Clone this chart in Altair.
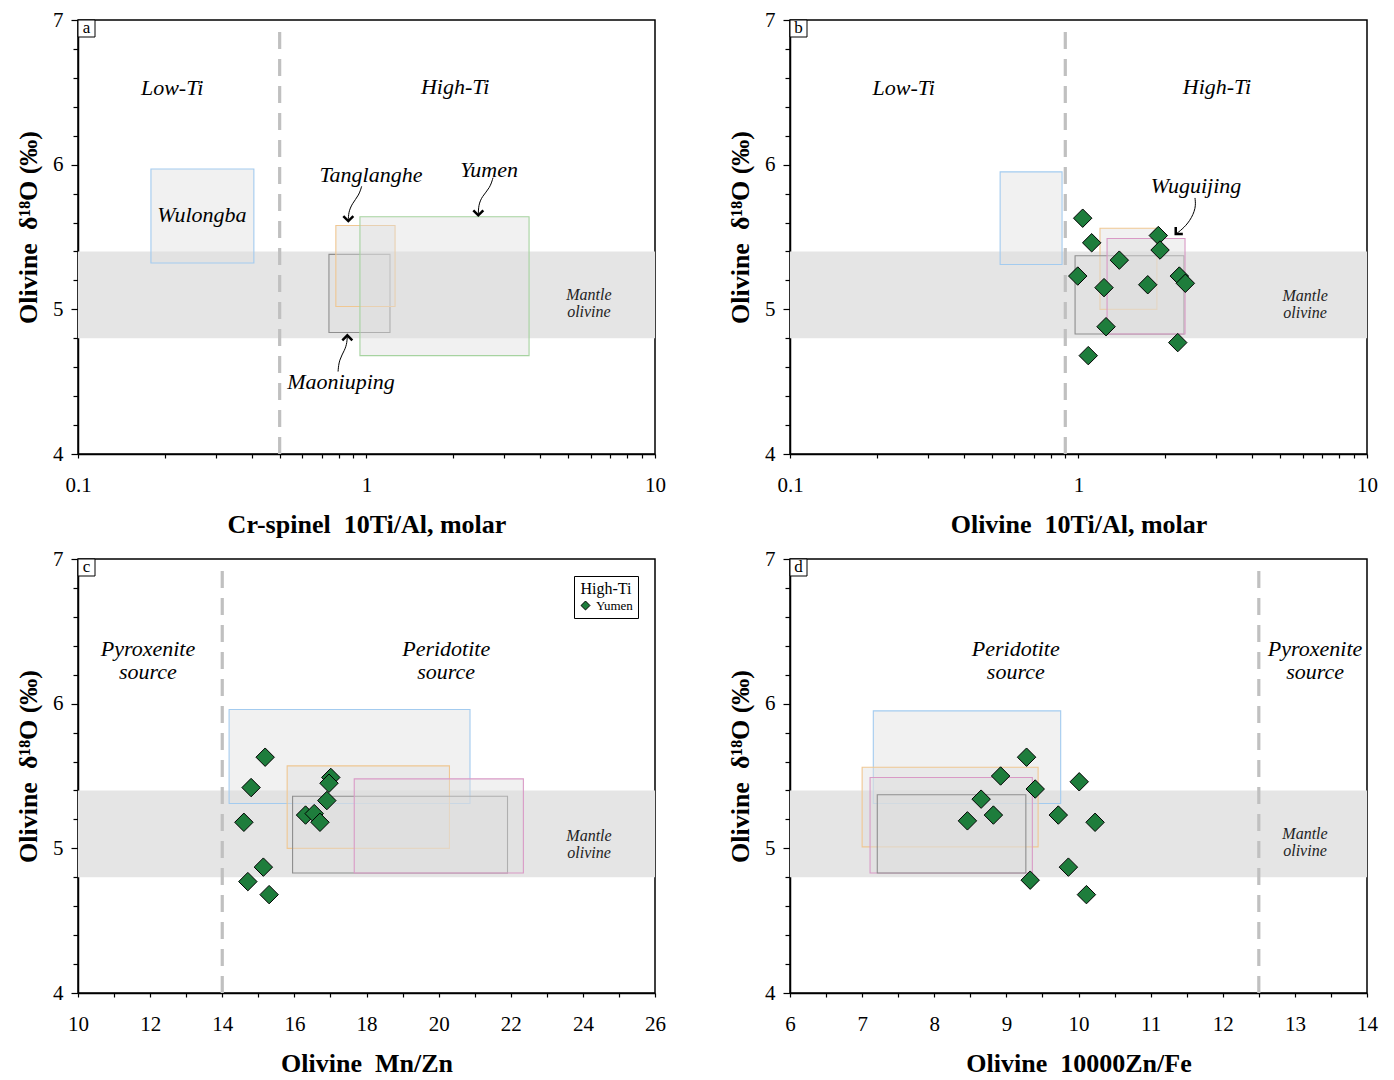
import altair as alt
import pandas as pd

W, H = 577, 434
SERIF = "Liberation Serif"
PT_FILL = "#1e7d3c"
NB = "\u00a0"

# ---------------- data ----------------
# Panel a: Cr-spinel 10Ti/Al (log) vs olivine d18O, suite fields
a_box_name = ["Wulongba", "Maoniuping", "Tanglanghe", "Yumen"]
a_box_x1 = [0.179, 0.741, 0.783, 0.949]
a_box_x2 = [0.407, 1.206, 1.256, 3.66]
a_box_y1 = [5.32, 4.84, 5.02, 4.68]
a_box_y2 = [5.97, 5.38, 5.58, 5.64]
a_box_col = ["#a3cbef", "#8e8e8e", "#f0c792", "#a6d3a0"]

# Panel b: olivine 10Ti/Al (log)
b_box_name = ["Wulongba", "Tanglanghe", "Maoniuping", "Wuguijing"]
b_box_x1 = [0.535, 1.187, 0.973, 1.256]
b_box_x2 = [0.877, 1.87, 2.32, 2.34]
b_box_y1 = [5.31, 5.0, 4.83, 4.83]
b_box_y2 = [5.95, 5.56, 5.37, 5.49]
b_box_col = ["#a3cbef", "#f0c792", "#8e8e8e", "#d99ac6"]
b_pt_x = [1.034, 1.111, 1.891, 1.917, 1.385, 0.994, 2.236, 2.346, 1.738, 1.226, 1.246, 2.208, 1.081]
b_pt_y = [5.63, 5.46, 5.51, 5.41, 5.34, 5.23, 5.23, 5.18, 5.17, 5.15, 4.88, 4.77, 4.68]

# Panel c: olivine Mn/Zn
c_box_name = ["Wulongba", "Tanglanghe", "Maoniuping", "Wuguijing"]
c_box_x1 = [14.19, 15.80, 15.95, 17.66]
c_box_x2 = [20.87, 20.30, 21.91, 22.35]
c_box_y1 = [5.31, 5.0, 4.83, 4.83]
c_box_y2 = [5.96, 5.57, 5.36, 5.48]
c_box_col = ["#a3cbef", "#f0c792", "#8e8e8e", "#d99ac6"]
c_pt_x = [15.19, 14.80, 17.01, 16.96, 16.90, 16.31, 16.55, 16.71, 14.60, 15.14, 14.71, 15.30]
c_pt_y = [5.63, 5.42, 5.49, 5.45, 5.33, 5.23, 5.24, 5.18, 5.18, 4.87, 4.77, 4.68]

# Panel d: olivine 10000Zn/Fe
d_box_name = ["Wulongba", "Tanglanghe", "Wuguijing", "Maoniuping"]
d_box_x1 = [7.155, 7.0, 7.11, 7.21]
d_box_x2 = [9.753, 9.44, 9.36, 9.27]
d_box_y1 = [5.31, 5.01, 4.83, 4.83]
d_box_y2 = [5.95, 5.56, 5.49, 5.37]
d_box_col = ["#a3cbef", "#f0c792", "#d99ac6", "#8e8e8e"]
d_pt_x = [9.28, 8.92, 10.01, 9.40, 8.65, 8.82, 8.46, 9.72, 10.23, 9.86, 9.33, 10.11]
d_pt_y = [5.63, 5.50, 5.46, 5.41, 5.34, 5.23, 5.19, 5.23, 5.18, 4.87, 4.78, 4.68]

mantle_lo, mantle_hi = 4.8, 5.4

# annotation labels (data coordinates)
a_lab_text = ["Low-Ti", "High-Ti", "Wulongba", "Tanglanghe", "Yumen", "Maoniuping"]
a_lab_x = [0.212, 2.03, 0.269, 1.036, 2.66, 0.816]
a_lab_y = [6.53, 6.54, 5.65, 5.93, 5.96, 4.50]
b_lab_text = ["Low-Ti", "High-Ti", "Wuguijing"]
b_lab_x = [0.248, 3.02, 2.555]
b_lab_y = [6.53, 6.54, 5.85]
c_lab_text = ["Pyroxenite\nsource", "Peridotite\nsource"]
c_lab_x = [11.94, 20.21]
c_lab_y = [6.38, 6.38]
d_lab_text = ["Peridotite\nsource", "Pyroxenite\nsource"]
d_lab_x = [9.13, 13.28]
d_lab_y = [6.38, 6.38]
mantle_x = {"a": 5.90, "b": 6.10, "c": 24.17, "d": 13.14}
mantle_y = {"a": 5.10, "b": 5.09, "c": 5.085, "d": 5.10}

# curved arrows (data coordinates)
a_arrow_id = [1] * 5 + [2] * 5 + [3] * 5
a_arrow_x = [0.962, 0.942, 0.891, 0.866, 0.865,
             2.745, 2.68, 2.513, 2.444, 2.441,
             0.797, 0.803, 0.842, 0.856, 0.858]
a_arrow_y = [5.85, 5.79, 5.73, 5.67, 5.61,
             5.91, 5.84, 5.78, 5.72, 5.65,
             4.57, 4.65, 4.72, 4.77, 4.82]
a_head_x = [0.865, 2.441, 0.858]
a_head_y = [5.61, 5.65, 4.82]
a_head_ang = [0, 0, 180]
b_arrow_id = [1] * 5
b_arrow_x = [2.534, 2.555, 2.436, 2.279, 2.173]
b_arrow_y = [5.77, 5.70, 5.61, 5.55, 5.52]
b_head_x = [2.173]
b_head_y = [5.52]
b_head_ang = [45]

y_ticks = [4.0, 4.2, 4.4, 4.6, 4.8, 5.0, 5.2, 5.4, 5.6, 5.8, 6.0,
           6.2, 6.4, 6.6, 6.8, 7.0]
log_ticks = [0.1, 0.2, 0.3, 0.4, 0.5, 0.6, 0.7, 0.8, 0.9, 1, 2, 3, 4, 5, 6, 7, 8, 9, 10]
c_ticks = list(range(10, 27))
d_ticks = [6, 6.5, 7, 7.5, 8, 8.5, 9, 9.5, 10, 10.5, 11, 11.5, 12, 12.5, 13, 13.5, 14]

Y_TITLE = f"Olivine{NB}{NB}δ¹⁸O{NB}(‰)"
INT_TEST = "abs(datum.value - round(datum.value)) < 0.01"


def build_panel(letter, xscale, xaxis, xtitle, xmin, xmax, boxes, dashed_x,
                labels, pts=None, arrows=None, heads=None, legend=False):
    def X(field="x"):
        return alt.X(f"{field}:Q", scale=xscale, axis=xaxis, title=xtitle)

    def Y(field="y"):
        return alt.Y(f"{field}:Q", scale=alt.Scale(domain=[4, 7], nice=False, zero=False),
                     axis=alt.Axis(values=y_ticks, titleY=207,
                                   labelExpr=f"{INT_TEST} ? format(datum.value, 'd') : ''",
                                   tickSize={"condition": {"test": INT_TEST, "value": 7}, "value": 5}),
                     title=Y_TITLE)

    band_df = pd.DataFrame({"x": [xmin], "x2": [xmax], "y": [mantle_lo], "y2": [mantle_hi]})
    band = alt.Chart(band_df).mark_rect(color="#e5e5e5").encode(
        x=X(), x2="x2:Q", y=Y(), y2="y2:Q")

    box = alt.Chart(boxes).mark_rect(fill="#dedede", fillOpacity=0.42, strokeWidth=1.1).encode(
        x=X("x1"), x2="x2:Q", y=Y("y1"), y2="y2:Q",
        stroke=alt.Stroke("col:N", scale=None))

    dash_df = pd.DataFrame({"x": [dashed_x], "y": [4.0], "y2": [6.92]})
    dash = alt.Chart(dash_df).mark_rule(color="#c0c0c0", strokeWidth=3.2,
                                        strokeDash=[17, 10]).encode(
        x=X(), y=Y(), y2="y2:Q")

    lab = alt.Chart(labels).mark_text(font=SERIF, fontStyle="italic", fontSize=22,
                                      lineBreak="\n", lineHeight=23, color="black").encode(
        x=X(), y=Y(), text="t:N")

    m_df = pd.DataFrame({"x": [mantle_x[letter]], "y": [mantle_y[letter]], "t": ["Mantle\nolivine"]})
    mant = alt.Chart(m_df).mark_text(font=SERIF, fontStyle="italic", fontSize=16,
                                     lineBreak="\n", lineHeight=17, color="#222222").encode(
        x=X(), y=Y(), text="t:N")

    layers = [band, box, dash, lab, mant]

    if arrows is not None:
        arr = alt.Chart(arrows).mark_line(color="black", strokeWidth=1, interpolate="basis").encode(
            x=X(), y=Y(), detail="id:N", order="seq:Q")
        hd = alt.Chart(heads).mark_point(shape="M-1,-1L0,0L1,-1", filled=False, color="black",
                                         strokeWidth=2.5, size=100, opacity=1).encode(
            x=X(), y=Y(), angle=alt.Angle("ang:Q", scale=None))
        layers += [arr, hd]

    if pts is not None:
        if legend:
            col = alt.Color("suite:N", scale=alt.Scale(range=[PT_FILL]),
                            legend=alt.Legend(title="High-Ti", orient="top-right", offset=17,
                                              strokeColor="black", fillColor="white",
                                              padding=5, titleFont=SERIF, titleFontSize=16,
                                              titleFontWeight="normal", titleAnchor="middle",
                                              titlePadding=2,
                                              labelFont=SERIF, labelFontSize=13,
                                              symbolType="diamond", symbolSize=80,
                                              symbolStrokeColor="black", symbolStrokeWidth=1,
                                              symbolFillColor=PT_FILL))
            ptl = alt.Chart(pts).mark_point(shape="diamond", filled=True, stroke="black",
                                            strokeWidth=1, size=340, opacity=1).encode(
                x=X(), y=Y(), color=col)
        else:
            ptl = alt.Chart(pts).mark_point(shape="diamond", filled=True, fill=PT_FILL,
                                            stroke="black", strokeWidth=1, size=340,
                                            opacity=1).encode(x=X(), y=Y())
        layers.append(ptl)

    lb = alt.Chart(pd.DataFrame({"t": [letter]})).mark_rect(
        fill="white", stroke="black", strokeWidth=1).encode(
        x=alt.value(0), x2=alt.value(17), y=alt.value(0), y2=alt.value(17))
    lt = alt.Chart(pd.DataFrame({"t": [letter]})).mark_text(
        font=SERIF, fontSize=17, color="black", baseline="middle").encode(
        x=alt.value(8.5), y=alt.value(8), text="t:N")
    layers += [lb, lt]

    return alt.layer(*layers).properties(width=W, height=H)


def boxes_df(names, x1, x2, y1, y2, cols):
    return pd.DataFrame({"name": names, "x1": x1, "x2": x2, "y1": y1, "y2": y2, "col": cols})


def lab_df(t, x, y):
    return pd.DataFrame({"t": t, "x": x, "y": y})


log_scale = alt.Scale(type="log", domain=[0.1, 10], nice=False)
log_axis = alt.Axis(values=log_ticks, labelFlush=False,
                    labelExpr="datum.value == 0.1 ? '0.1' : datum.value == 1 ? '1' : datum.value == 10 ? '10' : ''")


def t(s):
    return s.replace(" ", NB)


pa = build_panel("a", log_scale, log_axis, t("Cr-spinel  10Ti/Al, molar"), 0.1, 10,
                 boxes_df(a_box_name, a_box_x1, a_box_x2, a_box_y1, a_box_y2, a_box_col),
                 0.5, lab_df(a_lab_text, a_lab_x, a_lab_y),
                 arrows=pd.DataFrame({"id": a_arrow_id, "x": a_arrow_x, "y": a_arrow_y,
                                      "seq": list(range(len(a_arrow_x)))}),
                 heads=pd.DataFrame({"x": a_head_x, "y": a_head_y, "ang": a_head_ang}))

pb = build_panel("b", log_scale, log_axis, t("Olivine  10Ti/Al, molar"), 0.1, 10,
                 boxes_df(b_box_name, b_box_x1, b_box_x2, b_box_y1, b_box_y2, b_box_col),
                 0.9, lab_df(b_lab_text, b_lab_x, b_lab_y),
                 pts=pd.DataFrame({"x": b_pt_x, "y": b_pt_y, "suite": "Yumen"}),
                 arrows=pd.DataFrame({"id": b_arrow_id, "x": b_arrow_x, "y": b_arrow_y,
                                      "seq": list(range(len(b_arrow_x)))}),
                 heads=pd.DataFrame({"x": b_head_x, "y": b_head_y, "ang": b_head_ang}))

pc = build_panel("c", alt.Scale(domain=[10, 26], nice=False, zero=False),
                 alt.Axis(values=c_ticks, labelFlush=False,
                          labelExpr="datum.value % 2 == 0 ? format(datum.value, 'd') : ''"),
                 t("Olivine  Mn/Zn"), 10, 26,
                 boxes_df(c_box_name, c_box_x1, c_box_x2, c_box_y1, c_box_y2, c_box_col),
                 14, lab_df(c_lab_text, c_lab_x, c_lab_y),
                 pts=pd.DataFrame({"x": c_pt_x, "y": c_pt_y, "suite": "Yumen"}), legend=True)

pd_ = build_panel("d", alt.Scale(domain=[6, 14], nice=False, zero=False),
                  alt.Axis(values=d_ticks, labelFlush=False,
                           labelExpr=f"{INT_TEST} ? format(datum.value, 'd') : ''"),
                  t("Olivine  10000Zn/Fe"), 6, 14,
                  boxes_df(d_box_name, d_box_x1, d_box_x2, d_box_y1, d_box_y2, d_box_col),
                  12.5, lab_df(d_lab_text, d_lab_x, d_lab_y),
                  pts=pd.DataFrame({"x": d_pt_x, "y": d_pt_y, "suite": "Yumen"}))

chart = alt.concat(pa, pb, pc, pd_, columns=2, spacing={"row": 105, "column": 135},
                   bounds="flush").resolve_legend(
    color="independent"
).resolve_scale(
    color="independent"
).configure_view(
    stroke="black", strokeWidth=1.5
).configure_axis(
    domainColor="black", domainWidth=1.5, tickColor="black", tickWidth=1.2, tickSize=5,
    labelFont=SERIF, labelFontSize=21, labelColor="black", labelPadding=6,
    titleFont=SERIF, titleFontSize=26, titleFontWeight="bold", titleColor="black",
    grid=False
).configure_axisX(
    labelPadding=16, titlePadding=16, tickSize=4
).configure_axisY(
    titlePadding=11, labelPadding=8
).properties(padding={"left": 6, "top": 0, "right": 5, "bottom": 5})

chart.save("out.html", embed_options={"renderer": "svg", "actions": False})
